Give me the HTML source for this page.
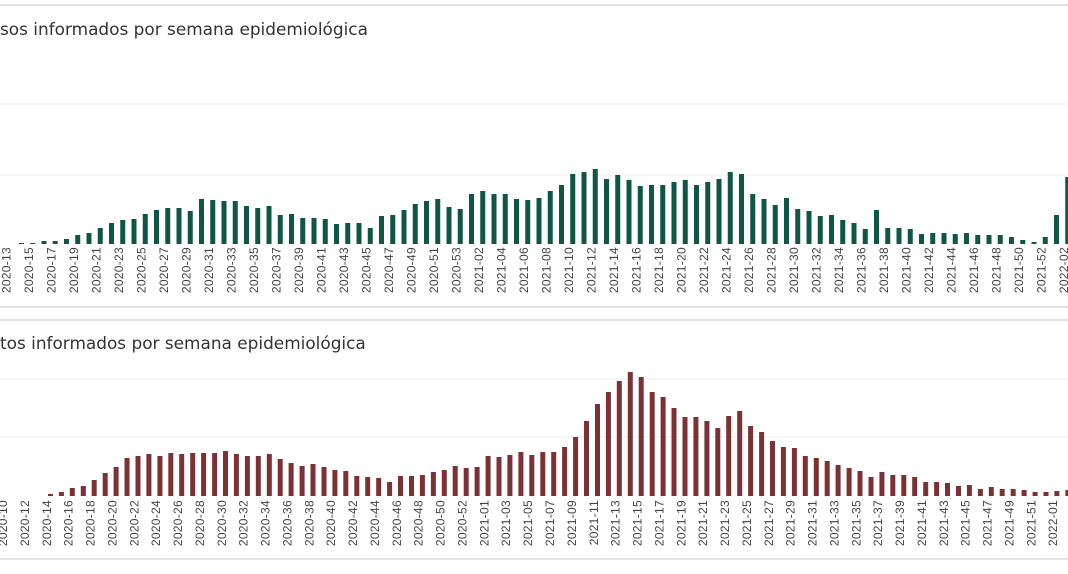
<!DOCTYPE html>
<html><head><meta charset="utf-8"><style>
html,body{margin:0;padding:0;background:#fff;}
svg{display:block;}
.t{font-family:"DejaVu Sans","Liberation Sans",sans-serif;font-size:16.9px;fill:#333;}
.l{font-family:"Liberation Sans",sans-serif;font-size:12px;fill:#444;letter-spacing:0.3px;}
.g rect{fill:#0f5647;}
.r rect{fill:#7c3234;}
</style></head><body>
<svg width="1068" height="574" viewBox="0 0 1068 574" xmlns="http://www.w3.org/2000/svg">
<rect x="0" y="4" width="1068" height="2" fill="#e3e3e3"/>
<text class="t" x="0" y="35">sos informados por semana epidemiológica</text>
<line x1="0" y1="104" x2="1068" y2="104" stroke="#ececec"/>
<line x1="0" y1="175" x2="1068" y2="175" stroke="#ececec"/>
<g class="g">
<rect x="19" y="243" width="5" height="1"/><rect x="30.25" y="243" width="5" height="1"/><rect x="41.5" y="241" width="5" height="3"/><rect x="52.75" y="241" width="5" height="3"/><rect x="64" y="239" width="5" height="5"/><rect x="75.25" y="235" width="5" height="9"/><rect x="86.5" y="233" width="5" height="11"/><rect x="97.75" y="228" width="5" height="16"/><rect x="109" y="223" width="5" height="21"/><rect x="120.25" y="220" width="5" height="24"/><rect x="131.5" y="219" width="5" height="25"/><rect x="142.75" y="214" width="5" height="30"/><rect x="154" y="210" width="5" height="34"/><rect x="165.25" y="208" width="5" height="36"/><rect x="176.5" y="208" width="5" height="36"/><rect x="187.75" y="211" width="5" height="33"/><rect x="199" y="199" width="5" height="45"/><rect x="210.25" y="200" width="5" height="44"/><rect x="221.5" y="201" width="5" height="43"/><rect x="232.75" y="201" width="5" height="43"/><rect x="244" y="206" width="5" height="38"/><rect x="255.25" y="208" width="5" height="36"/><rect x="266.5" y="206" width="5" height="38"/><rect x="277.75" y="215" width="5" height="29"/><rect x="289" y="214" width="5" height="30"/><rect x="300.25" y="218" width="5" height="26"/><rect x="311.5" y="218" width="5" height="26"/><rect x="322.75" y="219" width="5" height="25"/><rect x="334" y="224" width="5" height="20"/><rect x="345.25" y="223" width="5" height="21"/><rect x="356.5" y="223" width="5" height="21"/><rect x="367.75" y="228" width="5" height="16"/><rect x="379" y="216" width="5" height="28"/><rect x="390.25" y="215" width="5" height="29"/><rect x="401.5" y="210" width="5" height="34"/><rect x="412.75" y="204" width="5" height="40"/><rect x="424" y="201" width="5" height="43"/><rect x="435.25" y="199" width="5" height="45"/><rect x="446.5" y="207" width="5" height="37"/><rect x="457.75" y="209" width="5" height="35"/><rect x="469" y="194" width="5" height="50"/><rect x="480.25" y="191" width="5" height="53"/><rect x="491.5" y="194" width="5" height="50"/><rect x="502.75" y="194" width="5" height="50"/><rect x="514" y="199" width="5" height="45"/><rect x="525.25" y="200" width="5" height="44"/><rect x="536.5" y="198" width="5" height="46"/><rect x="547.75" y="191" width="5" height="53"/><rect x="559" y="185" width="5" height="59"/><rect x="570.25" y="174" width="5" height="70"/><rect x="581.5" y="172" width="5" height="72"/><rect x="592.75" y="169" width="5" height="75"/><rect x="604" y="179" width="5" height="65"/><rect x="615.25" y="175" width="5" height="69"/><rect x="626.5" y="180" width="5" height="64"/><rect x="637.75" y="186" width="5" height="58"/><rect x="649" y="185" width="5" height="59"/><rect x="660.25" y="185" width="5" height="59"/><rect x="671.5" y="182" width="5" height="62"/><rect x="682.75" y="180" width="5" height="64"/><rect x="694" y="185" width="5" height="59"/><rect x="705.25" y="182" width="5" height="62"/><rect x="716.5" y="179" width="5" height="65"/><rect x="727.75" y="172" width="5" height="72"/><rect x="739" y="174" width="5" height="70"/><rect x="750.25" y="194" width="5" height="50"/><rect x="761.5" y="199" width="5" height="45"/><rect x="772.75" y="205" width="5" height="39"/><rect x="784" y="198" width="5" height="46"/><rect x="795.25" y="209" width="5" height="35"/><rect x="806.5" y="211" width="5" height="33"/><rect x="817.75" y="216" width="5" height="28"/><rect x="829" y="215" width="5" height="29"/><rect x="840.25" y="220" width="5" height="24"/><rect x="851.5" y="223" width="5" height="21"/><rect x="862.75" y="229" width="5" height="15"/><rect x="874" y="210" width="5" height="34"/><rect x="885.25" y="228" width="5" height="16"/><rect x="896.5" y="228" width="5" height="16"/><rect x="907.75" y="229" width="5" height="15"/><rect x="919" y="234" width="5" height="10"/><rect x="930.25" y="233" width="5" height="11"/><rect x="941.5" y="233" width="5" height="11"/><rect x="952.75" y="234" width="5" height="10"/><rect x="964" y="233" width="5" height="11"/><rect x="975.25" y="235" width="5" height="9"/><rect x="986.5" y="235" width="5" height="9"/><rect x="997.75" y="235" width="5" height="9"/><rect x="1009" y="237" width="5" height="7"/><rect x="1020.25" y="240" width="5" height="4"/><rect x="1031.5" y="242" width="5" height="2"/><rect x="1042.75" y="237" width="5" height="7"/><rect x="1054" y="215" width="5" height="29"/><rect x="1065.25" y="177" width="5" height="67"/>
</g>
<g class="l" text-anchor="end">
<text transform="translate(10.65,247) rotate(-90)">2020-13</text><text transform="translate(33.15,247) rotate(-90)">2020-15</text><text transform="translate(55.65,247) rotate(-90)">2020-17</text><text transform="translate(78.15,247) rotate(-90)">2020-19</text><text transform="translate(100.65,247) rotate(-90)">2020-21</text><text transform="translate(123.15,247) rotate(-90)">2020-23</text><text transform="translate(145.65,247) rotate(-90)">2020-25</text><text transform="translate(168.15,247) rotate(-90)">2020-27</text><text transform="translate(190.65,247) rotate(-90)">2020-29</text><text transform="translate(213.15,247) rotate(-90)">2020-31</text><text transform="translate(235.65,247) rotate(-90)">2020-33</text><text transform="translate(258.15,247) rotate(-90)">2020-35</text><text transform="translate(280.65,247) rotate(-90)">2020-37</text><text transform="translate(303.15,247) rotate(-90)">2020-39</text><text transform="translate(325.65,247) rotate(-90)">2020-41</text><text transform="translate(348.15,247) rotate(-90)">2020-43</text><text transform="translate(370.65,247) rotate(-90)">2020-45</text><text transform="translate(393.15,247) rotate(-90)">2020-47</text><text transform="translate(415.65,247) rotate(-90)">2020-49</text><text transform="translate(438.15,247) rotate(-90)">2020-51</text><text transform="translate(460.65,247) rotate(-90)">2020-53</text><text transform="translate(483.15,247) rotate(-90)">2021-02</text><text transform="translate(505.65,247) rotate(-90)">2021-04</text><text transform="translate(528.15,247) rotate(-90)">2021-06</text><text transform="translate(550.65,247) rotate(-90)">2021-08</text><text transform="translate(573.15,247) rotate(-90)">2021-10</text><text transform="translate(595.65,247) rotate(-90)">2021-12</text><text transform="translate(618.15,247) rotate(-90)">2021-14</text><text transform="translate(640.65,247) rotate(-90)">2021-16</text><text transform="translate(663.15,247) rotate(-90)">2021-18</text><text transform="translate(685.65,247) rotate(-90)">2021-20</text><text transform="translate(708.15,247) rotate(-90)">2021-22</text><text transform="translate(730.65,247) rotate(-90)">2021-24</text><text transform="translate(753.15,247) rotate(-90)">2021-26</text><text transform="translate(775.65,247) rotate(-90)">2021-28</text><text transform="translate(798.15,247) rotate(-90)">2021-30</text><text transform="translate(820.65,247) rotate(-90)">2021-32</text><text transform="translate(843.15,247) rotate(-90)">2021-34</text><text transform="translate(865.65,247) rotate(-90)">2021-36</text><text transform="translate(888.15,247) rotate(-90)">2021-38</text><text transform="translate(910.65,247) rotate(-90)">2021-40</text><text transform="translate(933.15,247) rotate(-90)">2021-42</text><text transform="translate(955.65,247) rotate(-90)">2021-44</text><text transform="translate(978.15,247) rotate(-90)">2021-46</text><text transform="translate(1000.65,247) rotate(-90)">2021-48</text><text transform="translate(1023.15,247) rotate(-90)">2021-50</text><text transform="translate(1045.65,247) rotate(-90)">2021-52</text><text transform="translate(1068.15,247) rotate(-90)">2022-02</text>
</g>
<rect x="0" y="306" width="1068" height="2" fill="#e3e3e3"/>
<rect x="0" y="319" width="1068" height="2" fill="#e3e3e3"/>
<text class="t" x="0" y="349">tos informados por semana epidemiológica</text>
<line x1="0" y1="379" x2="1068" y2="379" stroke="#ececec"/>
<line x1="0" y1="437" x2="1068" y2="437" stroke="#ececec"/>
<g class="r">
<rect x="48" y="494" width="5" height="2"/><rect x="58.9" y="492" width="5" height="4"/><rect x="69.8" y="488" width="5" height="8"/><rect x="80.8" y="486" width="5" height="10"/><rect x="91.7" y="480" width="5" height="16"/><rect x="102.7" y="473" width="5" height="23"/><rect x="113.6" y="467" width="5" height="29"/><rect x="124.5" y="458" width="5" height="38"/><rect x="135.5" y="456" width="5" height="40"/><rect x="146.4" y="454" width="5" height="42"/><rect x="157.4" y="456" width="5" height="40"/><rect x="168.3" y="453" width="5" height="43"/><rect x="179.2" y="454" width="5" height="42"/><rect x="190.2" y="453" width="5" height="43"/><rect x="201.1" y="453" width="5" height="43"/><rect x="212.1" y="453" width="5" height="43"/><rect x="223" y="451" width="5" height="45"/><rect x="233.9" y="454" width="5" height="42"/><rect x="244.9" y="456" width="5" height="40"/><rect x="255.8" y="456" width="5" height="40"/><rect x="266.8" y="454" width="5" height="42"/><rect x="277.7" y="459" width="5" height="37"/><rect x="288.6" y="463" width="5" height="33"/><rect x="299.6" y="466" width="5" height="30"/><rect x="310.5" y="464" width="5" height="32"/><rect x="321.5" y="467" width="5" height="29"/><rect x="332.4" y="470" width="5" height="26"/><rect x="343.3" y="471" width="5" height="25"/><rect x="354.3" y="476" width="5" height="20"/><rect x="365.2" y="477" width="5" height="19"/><rect x="376.2" y="478" width="5" height="18"/><rect x="387.1" y="482" width="5" height="14"/><rect x="398" y="476" width="5" height="20"/><rect x="409" y="476" width="5" height="20"/><rect x="419.9" y="475" width="5" height="21"/><rect x="430.9" y="472" width="5" height="24"/><rect x="441.8" y="470" width="5" height="26"/><rect x="452.7" y="466" width="5" height="30"/><rect x="463.7" y="468" width="5" height="28"/><rect x="474.6" y="467" width="5" height="29"/><rect x="485.6" y="456" width="5" height="40"/><rect x="496.5" y="457" width="5" height="39"/><rect x="507.4" y="455" width="5" height="41"/><rect x="518.4" y="452" width="5" height="44"/><rect x="529.3" y="455" width="5" height="41"/><rect x="540.3" y="452" width="5" height="44"/><rect x="551.2" y="452" width="5" height="44"/><rect x="562.1" y="447" width="5" height="49"/><rect x="573.1" y="437" width="5" height="59"/><rect x="584" y="421" width="5" height="75"/><rect x="595" y="404" width="5" height="92"/><rect x="605.9" y="392" width="5" height="104"/><rect x="616.8" y="381" width="5" height="115"/><rect x="627.8" y="372" width="5" height="124"/><rect x="638.7" y="377" width="5" height="119"/><rect x="649.7" y="392" width="5" height="104"/><rect x="660.6" y="397" width="5" height="99"/><rect x="671.5" y="408" width="5" height="88"/><rect x="682.5" y="417" width="5" height="79"/><rect x="693.4" y="417" width="5" height="79"/><rect x="704.4" y="421" width="5" height="75"/><rect x="715.3" y="428" width="5" height="68"/><rect x="726.2" y="416" width="5" height="80"/><rect x="737.2" y="411" width="5" height="85"/><rect x="748.1" y="426" width="5" height="70"/><rect x="759.1" y="432" width="5" height="64"/><rect x="770" y="441" width="5" height="55"/><rect x="780.9" y="447" width="5" height="49"/><rect x="791.9" y="448" width="5" height="48"/><rect x="802.8" y="456" width="5" height="40"/><rect x="813.8" y="458" width="5" height="38"/><rect x="824.7" y="461" width="5" height="35"/><rect x="835.6" y="465" width="5" height="31"/><rect x="846.6" y="468" width="5" height="28"/><rect x="857.5" y="471" width="5" height="25"/><rect x="868.5" y="477" width="5" height="19"/><rect x="879.4" y="472" width="5" height="24"/><rect x="890.3" y="475" width="5" height="21"/><rect x="901.3" y="475" width="5" height="21"/><rect x="912.2" y="477" width="5" height="19"/><rect x="923.2" y="482" width="5" height="14"/><rect x="934.1" y="482" width="5" height="14"/><rect x="945" y="483" width="5" height="13"/><rect x="956" y="486" width="5" height="10"/><rect x="966.9" y="485" width="5" height="11"/><rect x="977.9" y="489" width="5" height="7"/><rect x="988.8" y="487" width="5" height="9"/><rect x="999.7" y="489" width="5" height="7"/><rect x="1010.7" y="489" width="5" height="7"/><rect x="1021.6" y="490" width="5" height="6"/><rect x="1032.6" y="492" width="5" height="4"/><rect x="1043.5" y="492" width="5" height="4"/><rect x="1054.4" y="491" width="5" height="5"/><rect x="1065.4" y="490" width="5" height="6"/>
</g>
<g class="l" text-anchor="end">
<text transform="translate(7,500) rotate(-90)">2020-10</text><text transform="translate(28.9,500) rotate(-90)">2020-12</text><text transform="translate(50.8,500) rotate(-90)">2020-14</text><text transform="translate(72.6,500) rotate(-90)">2020-16</text><text transform="translate(94.5,500) rotate(-90)">2020-18</text><text transform="translate(116.4,500) rotate(-90)">2020-20</text><text transform="translate(138.3,500) rotate(-90)">2020-22</text><text transform="translate(160.2,500) rotate(-90)">2020-24</text><text transform="translate(182,500) rotate(-90)">2020-26</text><text transform="translate(203.9,500) rotate(-90)">2020-28</text><text transform="translate(225.8,500) rotate(-90)">2020-30</text><text transform="translate(247.7,500) rotate(-90)">2020-32</text><text transform="translate(269.6,500) rotate(-90)">2020-34</text><text transform="translate(291.4,500) rotate(-90)">2020-36</text><text transform="translate(313.3,500) rotate(-90)">2020-38</text><text transform="translate(335.2,500) rotate(-90)">2020-40</text><text transform="translate(357.1,500) rotate(-90)">2020-42</text><text transform="translate(379,500) rotate(-90)">2020-44</text><text transform="translate(400.8,500) rotate(-90)">2020-46</text><text transform="translate(422.7,500) rotate(-90)">2020-48</text><text transform="translate(444.6,500) rotate(-90)">2020-50</text><text transform="translate(466.5,500) rotate(-90)">2020-52</text><text transform="translate(488.4,500) rotate(-90)">2021-01</text><text transform="translate(510.2,500) rotate(-90)">2021-03</text><text transform="translate(532.1,500) rotate(-90)">2021-05</text><text transform="translate(554,500) rotate(-90)">2021-07</text><text transform="translate(575.9,500) rotate(-90)">2021-09</text><text transform="translate(597.8,500) rotate(-90)">2021-11</text><text transform="translate(619.6,500) rotate(-90)">2021-13</text><text transform="translate(641.5,500) rotate(-90)">2021-15</text><text transform="translate(663.4,500) rotate(-90)">2021-17</text><text transform="translate(685.3,500) rotate(-90)">2021-19</text><text transform="translate(707.2,500) rotate(-90)">2021-21</text><text transform="translate(729,500) rotate(-90)">2021-23</text><text transform="translate(750.9,500) rotate(-90)">2021-25</text><text transform="translate(772.8,500) rotate(-90)">2021-27</text><text transform="translate(794.7,500) rotate(-90)">2021-29</text><text transform="translate(816.6,500) rotate(-90)">2021-31</text><text transform="translate(838.4,500) rotate(-90)">2021-33</text><text transform="translate(860.3,500) rotate(-90)">2021-35</text><text transform="translate(882.2,500) rotate(-90)">2021-37</text><text transform="translate(904.1,500) rotate(-90)">2021-39</text><text transform="translate(926,500) rotate(-90)">2021-41</text><text transform="translate(947.8,500) rotate(-90)">2021-43</text><text transform="translate(969.7,500) rotate(-90)">2021-45</text><text transform="translate(991.6,500) rotate(-90)">2021-47</text><text transform="translate(1013.5,500) rotate(-90)">2021-49</text><text transform="translate(1035.4,500) rotate(-90)">2021-51</text><text transform="translate(1057.2,500) rotate(-90)">2022-01</text>
</g>
<rect x="0" y="558" width="1068" height="2" fill="#e3e3e3"/>
</svg>
</body></html>
